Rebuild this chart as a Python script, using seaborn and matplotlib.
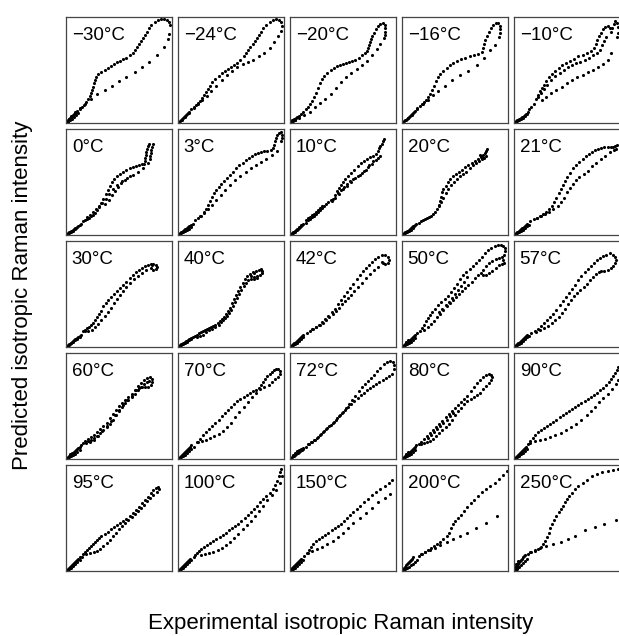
import matplotlib
matplotlib.use("Agg")
import matplotlib.pyplot as plt
import pandas as pd
import seaborn as sns

# panel labels, row by row
temps = ["−30°C", "−24°C", "−20°C", "−16°C", "−10°C",
         "0°C", "3°C", "10°C", "20°C", "21°C",
         "30°C", "40°C", "42°C", "50°C", "57°C",
         "60°C", "70°C", "72°C", "80°C", "90°C",
         "95°C", "100°C", "150°C", "200°C", "250°C"]

# (experimental, predicted) intensity, scaled 0-100 per panel
pts_m30 = [(0,1),(1,2),(2,3),(3,4),(4,5),(5,6),(6,7),(7,8),(8,9),(10,11),(12,12),(14,14),(16,16),(18,19),(20,22),(22,25),(23,28),(24,31),(25,34),(26,37),(27,40),(28,43),(30,46),(33,48),(36,50),(39,52),(42,54),(45,56),(48,58),(51,59),(54,61),(57,62),(60,64),(63,66),(65,69),(67,72),(69,75),(71,78),(73,81),(75,84),(77,87),(79,90),(81,93),(84,96),(87,98),(90,99),(93,99),(96,98),(98,96),(99,93),
           (98,85),(97,80),(93,72),(86,64),(79,58),(72,53),(65,48),(57,43),(50,39),(43,35),(36,31),(29,27),(23,22),(17,17),(12,13),(8,10),(4,6),(2,3),(1,0),(3,2),(5,3),(7,5),(9,7),(11,9)]
pts_m24 = [(0,0),(1,1),(2,2),(3,3),(4,4),(5,5),(6,6),(7,7),(8,8),(9,9),(10,10),(12,12),(14,14),(16,16),(18,18),(20,20),(22,23),(24,26),(26,29),(28,32),(30,35),(32,38),(35,41),(38,44),(41,47),(44,49),(47,51),(50,53),(53,55),(56,57),(59,60),(62,63),(64,66),(66,69),(68,72),(71,75),(73,78),(75,81),(77,84),(79,87),(81,90),(84,93),(87,96),(90,98),(93,99),(96,98),(98,96),(99,92),
           (98,88),(95,83),(91,77),(87,71),(82,66),(77,63),(71,60),(66,58),(61,56),(56,53),(51,49),(46,45),(41,40),(36,35),(31,30),(27,25),(22,21),(18,17),(14,13),(10,9),(6,5),(3,2)]
pts_m20 = [(0,0),(1,2),(2,1),(3,3),(4,2),(5,4),(6,5),(8,6),(10,8),(12,10),(14,12),(16,14),(18,17),(20,20),(22,24),(24,28),(26,33),(28,37),(30,41),(32,44),(35,47),(38,50),(41,52),(44,54),(47,55),(50,56),(53,57),(56,58),(59,59),(62,60),(65,62),(68,64),(71,66),(73,68),(74,71),(75,74),(76,77),(77,80),(78,83),(80,86),(82,89),(84,92),(86,94),(88,95),(90,93),(90,90),(90,87),(90,84),(89,81),
           (86,75),(83,70),(78,64),(73,59),(68,55),(63,51),(58,47),(53,43),(48,38),(43,33),(38,27),(33,22),(28,18),(23,14),(18,10),(13,7),(8,4),(4,2)]
pts_m16 = [(0,0),(1,1),(2,2),(3,2),(4,3),(5,4),(6,5),(7,6),(8,7),(9,8),(10,9),(11,10),(12,11),(14,13),(16,15),(18,17),(20,19),(22,21),(24,24),(26,27),(28,31),(30,35),(32,39),(34,43),(36,46),(39,49),(42,52),(45,55),(48,57),(52,59),(56,61),(60,62),(64,63),(68,64),(72,65),(76,67),(77,71),(78,75),(79,79),(81,83),(83,87),(85,90),(87,93),(89,95),(91,95),(93,92),(93,89),(93,86),(92,82),
           (88,74),(84,69),(78,62),(71,55),(63,49),(55,45),(47,40),(40,35),(34,30),(29,26),(24,21),(19,17),(14,12),(9,7),(5,4)]
pts_m10 = [(0,0),(1,1),(2,1),(3,2),(4,2),(5,3),(2,2),(4,3),(6,4),(7,5),(8,5),(9,6),(10,7),(11,8),(6,3),(8,4),(10,6),(12,8),(13,10),(14,12),(16,14),(18,17),
           (20,22),(22,26),(24,30),(26,33),(28,36),(30,39),(33,43),(36,46),(39,49),(42,52),(45,55),(49,57),(53,59),(57,61),(61,63),(65,64),(69,66),(73,68),(76,71),(78,75),(79,79),(81,83),(83,86),(85,89),(87,91),(89,92),(91,90),(92,87),
           (93,90),(95,94),(96,97),(98,95),(99,91),(99,86),(98,82),
           (22,24),(25,28),(28,32),(31,36),(35,40),(39,44),(43,47),(47,50),(51,53),(55,55),(59,57),(63,58),(67,60),(71,62),(75,64),(79,66),(82,69),(84,74),(86,78),(88,82),
           (92,66),(89,60),(85,56),(80,53),(75,50),(70,48),(65,45),(60,43),(55,40),(50,37),(45,34),(40,31),(35,28),(30,24),(26,21)]
pts_0 = [(0,0),(1,1),(2,1),(3,2),(4,3),(5,3),(6,4),(7,5),(8,6),(9,6),(10,7),(11,8),(12,9),(13,10),(2,2),(4,2),(6,3),(8,5),
         (15,12),(17,13),(19,14),(21,15),(23,17),(25,18),(27,20),(29,23),(31,26),(33,30),(35,34),(37,38),(39,42),(41,46),(43,50),(45,53),(48,56),(51,58),(54,60),(57,62),(60,63),(63,64),(66,65),(69,66),(72,67),(74,67),
         (75,70),(75,73),(76,76),(76,79),(77,82),(78,85),(79,87),(80,72),(80,75),(81,78),(81,81),(82,84),(83,87),
         (78,68),(73,63),(68,60),(63,57),(58,54),(53,51),(48,47),(44,43),(40,38),(37,34),(34,30),(31,27),(28,24),(25,21),(22,18),(19,16),
         (60,56),(56,52),(52,49),(49,45),(46,41),(43,37),(40,33),(36,29)]
pts_3 = [(0,0),(1,1),(2,2),(3,2),(4,3),(5,4),(6,5),(7,5),(8,6),(9,7),(10,8),(11,8),(12,9),(13,10),(2,1),(4,2),(6,3),(8,4),(10,5),(12,7),
         (15,13),(18,15),(21,17),(24,21),(26,24),(28,28),(30,32),(32,36),(34,39),(36,42),(38,45),(40,48),(43,51),(46,54),(49,57),(52,60),(55,63),(58,66),(61,68),(64,71),(67,73),(70,75),(73,77),(76,78),(79,79),(82,80),(85,80),(88,81),(90,83),(91,86),(92,89),(93,92),(94,95),(96,97),(98,98),(99,95),(99,92),(98,89),
         (94,80),(89,76),(84,72),(79,69),(74,66),(69,63),(64,60),(59,56),(54,52),(49,47),(44,42),(40,37),(36,33),(32,28),(28,24),(24,20),(20,17)]
pts_10 = [(0,0),(1,1),(2,1),(3,2),(4,3),(5,4),(6,4),(7,5),(8,6),(9,7),(10,8),(11,9),(12,10),(2,2),(4,2),(6,5),(8,7),(10,9),
          (14,11),(14,13),(16,13),(16,15),(18,14),(18,16),(20,16),(20,18),(22,17),(22,19),(24,19),(24,21),(26,21),(26,23),(28,23),(28,25),(30,25),(30,27),(32,27),(34,29),(36,31),(38,33),(40,34),
          (42,37),(44,41),(46,44),(48,47),(50,50),(52,53),(55,56),(58,59),(61,62),(64,65),(67,68),(70,70),(73,72),(76,74),(79,75),(82,77),(84,80),(85,83),(86,85),(87,87),(88,89),(89,91),
          (86,75),(84,73),(82,71),(79,70),(75,66),(72,62),(68,59),(64,56),(60,53),(57,51),(54,48),(51,45),(48,42),(45,39),(42,35),(39,32),
          (46,38),(50,43),(54,46),(58,50),(62,54),(66,57),(70,61),(74,64),(78,67)]
pts_20 = [(0,0),(1,1),(2,1),(3,2),(4,3),(5,3),(6,4),(7,5),(8,6),(9,7),(10,8),(11,8),(12,9),(13,10),(2,2),(4,2),(6,3),(8,4),(10,6),
          (15,11),(17,12),(19,13),(21,14),(23,15),(25,16),(27,17),(29,19),(31,21),(33,24),(35,28),(36,32),(37,36),(38,40),(39,43),(41,46),(43,50),(45,53),(48,56),(51,58),(54,60),(57,62),(60,64),(63,66),(66,68),(69,70),(72,72),(75,74),(77,76),(79,78),(80,80),(81,82),
          (76,72),(73,70),(70,68),(67,66),(64,63),(61,60),(58,58),(55,56),(52,53),(49,50),(46,47),(43,43),(41,39),(39,35),(37,31),(35,27),
          (74,76),(76,74),(78,73),(80,75)]
pts_21 = [(0,0),(1,1),(2,2),(3,2),(4,3),(5,4),(6,5),(7,6),(8,6),(9,7),(10,8),(11,9),(12,10),(2,1),(4,2),(6,3),(8,4),(10,6),(12,8),(14,9),
          (15,12),(18,14),(21,15),(24,17),(27,19),(30,21),(33,24),(36,27),(38,31),(40,35),(42,39),(44,43),(46,47),(48,51),(50,55),(53,59),(56,63),(59,66),(62,69),(65,72),(68,75),(71,77),(74,79),(77,81),(80,82),(83,83),(86,84),(89,84),(92,84),(94,84),(96,85),(98,86),(97,82),(95,81),
          (91,79),(87,75),(83,72),(78,68),(74,65),(70,61),(66,58),(62,55),(59,52),(56,48),(53,44),(50,40),(47,35),(44,31),(41,27),(37,24),(33,21),(29,19),(25,17),(21,15)]
pts_30 = [(0,0),(1,1),(2,2),(3,2),(4,3),(5,4),(6,5),(7,6),(8,7),(9,7),(10,8),(11,9),(12,10),(2,1),(4,3),(6,4),(8,6),(10,7),(12,9),(13,11),
          (15,14),(17,15),(19,17),(21,18),(23,20),(25,22),(27,25),(29,28),(31,31),(33,34),(35,38),(37,41),(39,44),(42,47),(45,50),(48,53),(51,56),(54,59),(57,62),(60,65),(63,68),(66,71),(69,73),(72,75),(75,77),(78,78),(81,79),(83,79),(85,78),(86,76),(85,74),(83,73),(81,75),(82,78),
          (76,73),(72,70),(68,67),(64,64),(60,61),(57,57),(54,53),(51,49),(48,45),(45,41),(42,37),(39,33),(36,29),(33,25),(30,21),(27,18),(24,15),(20,14),(17,14)]
pts_40 = [(0,0),(1,1),(2,1),(3,2),(4,3),(5,3),(6,4),(7,5),(8,5),(9,6),(10,7),(11,7),(12,8),(13,9),(2,2),(4,2),(6,3),(8,4),(10,6),(12,7),
          (15,10),(17,11),(19,12),(21,13),(23,14),(25,15),(27,16),(29,17),(31,18),(33,19),(35,20),(37,22),(39,24),(41,26),(43,28),(45,31),(47,34),(49,37),(51,41),(53,45),(55,49),(57,53),(59,57),(61,61),(63,64),(65,67),(68,69),(71,71),(74,72),(77,73),(79,74),(80,72),(80,70),(78,68),(75,67),(72,66),(69,67),(72,70),
          (40,23),(42,25),(44,27),(46,29),(48,32),(50,35),(52,38),(54,42),(56,46),(58,50),(60,54),(62,58),(64,61),(66,63),(69,64),(72,64),(75,65),
          (17,9),(20,10),(23,11),(26,13),(29,15),(32,16),(35,18),(38,20)]
pts_42 = [(0,0),(1,1),(2,2),(3,3),(4,3),(5,4),(6,5),(7,6),(8,7),(9,8),(10,9),(11,10),(12,11),(2,1),(4,2),(6,3),(8,5),(10,7),(12,9),
          (15,12),(18,14),(21,16),(24,18),(27,20),(30,23),(33,26),(36,29),(39,33),(42,36),(45,40),(48,44),(51,48),(54,52),(57,56),(60,60),(63,64),(66,68),(69,72),(72,75),(75,78),(78,81),(81,84),(84,86),(87,88),(90,88),(93,86),(94,83),(93,80),(90,79),(88,80),(87,81),
          (84,76),(80,73),(76,69),(72,65),(68,61),(64,57),(61,53),(58,49),(55,46),(52,43),(49,40),(46,37),(43,34),(40,31),(37,28),(34,25),(31,22),(28,20),(24,18),(20,16)]
pts_50 = [(0,0),(1,1),(2,1),(3,2),(4,3),(5,4),(6,5),(7,6),(8,7),(9,8),(10,9),(11,10),(12,11),(2,2),(4,2),(6,3),(8,4),(10,6),(12,8),(3,4),(5,6),
          (14,12),(16,14),(18,17),(20,20),(22,24),(24,27),(26,30),(28,33),(31,36),(34,39),(37,42),(40,45),(43,48),(46,52),(49,56),(52,60),(55,64),(58,68),(61,71),(64,74),(67,77),(70,80),(73,83),(76,86),(79,89),(82,92),(85,94),(88,96),(91,97),(94,97),(96,96),(98,94),(98,91),(97,88),(95,86),(92,85),(89,84),
          (86,82),(83,80),(80,77),(77,73),(75,70),(77,68),(80,68),(83,70),(86,72),(89,75),(92,78),(95,79),(97,80),(96,83),
          (72,68),(69,65),(66,62),(63,59),(60,56),(57,53),(54,50),(51,47),(48,44),(45,41),(42,38),(39,35),(36,31),(33,28),(30,24),(27,21),(24,18),(20,15),
          (35,33),(38,36),(41,39),(44,42),(47,46),(50,50),(53,54),(56,58),(59,62),(62,66)]
pts_57 = [(0,0),(1,1),(2,2),(3,3),(4,3),(5,4),(6,5),(7,6),(8,7),(9,8),(10,9),(11,10),(12,11),(2,1),(4,2),(6,3),(8,5),(10,7),(12,9),(14,10),
          (16,12),(19,14),(22,16),(25,19),(28,22),(31,25),(34,28),(37,31),(40,35),(43,39),(46,43),(49,47),(52,51),(55,55),(58,59),(61,63),(64,67),(67,71),(70,74),(73,77),(76,80),(79,83),(82,85),(85,87),(88,88),(91,89),(94,88),(96,86),(97,83),(96,80),(94,77),(92,75),(89,73),(86,72),(83,72),(81,71),
          (78,69),(75,66),(72,63),(69,60),(66,57),(63,54),(60,51),(57,48),(54,44),(51,40),(48,36),(45,32),(42,28),(39,25),(36,22),(32,19),(28,17),(24,15),(20,13)]
pts_60 = [(0,0),(1,1),(2,1),(3,2),(4,3),(5,4),(6,5),(7,6),(8,7),(9,8),(10,9),(11,10),(12,11),(2,2),(4,2),(6,3),(8,4),(10,6),(12,8),(3,4),(5,5),(13,12),
          (15,14),(17,16),(20,18),(23,20),(26,22),(29,25),(32,28),(35,31),(38,34),(41,38),(44,42),(47,46),(50,50),(53,53),(56,56),(59,59),(62,62),(65,65),(68,69),(71,72),(74,75),(77,77),(80,78),(82,76),(82,73),(81,70),(78,68),(75,68),(72,68),(69,67),(66,65),
          (20,16),(23,17),(26,19),(29,21),(32,24),(35,27),(38,30),(41,33),(44,37),(47,41),(50,45),(53,49),(56,53),(59,56),(62,59),(65,62),(68,65),(71,68),(74,71),(77,73),(79,74),
          (62,60),(58,56),(54,51),(50,46),(46,41),(42,36),(38,31),(34,26),(30,21),(26,17),(22,15),(18,14)]
pts_70 = [(0,0),(1,1),(2,2),(3,3),(4,4),(5,5),(6,6),(7,7),(8,8),(9,9),(10,10),(11,11),(12,12),(2,1),(4,2),(6,3),(8,5),(10,7),(12,9),(14,11),
          (17,15),(20,18),(23,22),(26,25),(29,28),(32,31),(35,34),(38,37),(41,40),(44,43),(47,46),(50,49),(53,52),(56,55),(59,57),(62,59),(65,61),(68,63),(71,64),(74,65),(77,67),(79,70),(81,73),(83,76),(85,79),(87,81),(89,83),(91,85),(93,86),(95,86),(97,84),(97,81),(95,78),(92,76),
          (89,73),(86,70),(82,68),(78,66),(74,63),(70,59),(66,54),(62,49),(58,44),(54,39),(50,34),(46,30),(42,26),(38,23),(34,21),(30,19),(26,17),(22,16),(18,15)]
pts_72 = [(0,0),(1,1),(2,2),(3,2),(4,3),(5,4),(6,5),(7,5),(8,6),(9,7),(10,8),(11,8),(12,9),(2,3),(4,5),(6,7),(8,8),(10,9),(12,10),
          (14,11),(17,13),(20,15),(23,17),(26,20),(29,23),(32,26),(35,29),(38,32),(41,35),(44,38),(47,41),(50,44),(53,48),(56,52),(59,56),(62,60),(65,64),(68,68),(71,71),(74,74),(77,77),(80,80),(83,84),(86,87),(89,90),(92,92),(95,93),(98,92),(99,89),(99,86),
          (97,81),(94,79),(91,77),(88,75),(85,73),(82,71),(79,69),(76,67),(73,65),(70,63),(67,61),(64,58),(61,55),(58,52),(55,49),(52,46),(49,43),(46,40),(43,37),(40,34),(37,31),(34,28),(31,25),(28,22),(25,19),(22,17),(19,15),(16,13)]
pts_80 = [(0,0),(1,1),(2,1),(3,2),(4,3),(5,4),(6,5),(7,6),(8,7),(9,8),(10,9),(11,10),(12,11),(2,2),(4,2),(6,3),(8,4),(10,6),(12,8),(3,4),(5,6),(13,12),
          (15,13),(17,15),(20,18),(23,21),(26,24),(29,27),(32,30),(35,33),(38,36),(41,39),(44,42),(47,45),(50,48),(53,51),(56,54),(59,57),(62,60),(65,64),(68,68),(71,72),(74,75),(77,78),(80,80),(83,81),(85,80),(86,78),(85,75),(83,72),(80,69),(77,66),(74,63),(71,61),(68,59),(65,57),(62,55),
          (59,52),(56,48),(53,45),(50,41),(47,37),(44,33),(41,30),(38,27),(35,24),(32,21),(29,18),(26,16),(23,15),(20,14),(17,13),
          (24,19),(27,22),(30,25),(33,28),(36,31),(39,34),(42,37),(45,40),(48,43)]
pts_90 = [(0,0),(1,1),(2,2),(3,3),(4,4),(5,5),(6,6),(7,7),(8,8),(9,9),(10,10),(11,11),(2,1),(4,2),(6,4),(8,5),(10,7),(12,9),
          (13,13),(15,16),(17,19),(19,22),(22,25),(25,27),(28,29),(31,31),(34,33),(37,35),(40,37),(43,39),(46,41),(49,43),(52,45),(55,47),(58,49),(61,51),(64,53),(67,55),(70,57),(73,59),(76,61),(79,63),(82,65),(85,67),(88,70),(90,73),(92,76),(94,79),(96,82),(98,85),(99,88),
          (99,75),(97,71),(93,66),(89,62),(85,58),(81,54),(77,49),(73,45),(69,41),(64,37),(59,33),(54,30),(49,27),(44,24),(39,22),(34,20),(29,18),(24,17),(19,16),(15,14)]
pts_95 = [(0,0),(1,1),(2,2),(3,3),(4,4),(5,5),(6,6),(7,7),(8,8),(9,9),(10,10),(11,11),(12,12),(2,1),(4,2),(6,4),(8,6),(10,8),(12,10),(14,12),
          (15,15),(17,17),(19,19),(21,21),(23,23),(25,25),(27,27),(29,29),(31,31),(33,33),(36,35),(39,37),(42,39),(45,41),(48,43),(51,45),(54,47),(57,49),(60,52),(63,55),(66,58),(69,61),(72,64),(75,67),(78,70),(81,74),(83,77),(85,79),(87,80),(88,78),(86,75),
          (83,72),(80,69),(77,66),(74,63),(71,60),(68,57),(65,54),(62,51),(59,48),(56,45),(53,42),(50,39),(47,36),(44,33),(41,29),(38,26),(35,23),(32,20),(29,18),(26,17),(22,16),(18,15)]
pts_100 = [(0,0),(1,1),(2,2),(3,3),(4,4),(5,5),(6,6),(7,7),(8,8),(9,9),(10,10),(11,11),(2,1),(4,2),(6,4),(8,6),(10,8),(12,10),(14,12),
           (15,14),(17,16),(19,18),(21,20),(24,22),(27,24),(30,26),(33,28),(36,30),(39,32),(42,34),(45,36),(48,38),(51,40),(54,42),(57,44),(60,47),(63,50),(66,53),(69,56),(72,59),(75,62),(78,65),(81,68),(84,71),(87,74),(90,78),(92,82),(94,86),(96,90),(97,94),(98,97),
           (99,90),(97,84),(93,77),(89,72),(85,67),(81,62),(77,57),(73,52),(69,47),(65,43),(61,39),(57,35),(53,31),(49,27),(45,24),(41,21),(37,19),(33,17),(29,16),(25,15),(21,14)]
pts_150 = [(0,0),(1,2),(2,3),(3,4),(4,5),(5,6),(6,7),(7,8),(8,9),(9,10),(10,11),(2,1),(4,2),(6,4),(8,6),(10,8),(12,10),
           (13,13),(15,16),(17,19),(19,22),(21,25),(24,28),(27,30),(30,32),(33,34),(36,36),(39,38),(42,40),(45,42),(48,44),(51,47),(54,50),(57,53),(60,56),(63,59),(66,62),(70,65),(74,68),(78,72),(82,75),(86,78),(90,81),(94,84),(97,87),
           (95,73),(90,69),(84,65),(78,60),(72,55),(66,50),(60,45),(55,40),(50,36),(45,32),(40,28),(35,25),(30,22),(25,20),(20,18),(16,16)]
pts_200 = [(0,0),(1,2),(2,3),(3,5),(4,6),(5,7),(6,8),(7,9),(8,10),(9,11),(10,12),(2,1),(4,2),(6,3),(8,5),(10,6),(12,8),(14,10),
           (15,13),(18,15),(21,17),(24,19),(27,21),(30,23),(33,25),(36,27),(39,30),(42,33),(44,36),(46,40),(48,44),(50,47),(53,50),(56,53),(59,57),(62,61),(65,64),(68,67),(72,71),(76,75),(80,78),(84,81),(88,84),(92,88),(96,91),(100,95),
           (90,52),(80,45),(70,40),(62,36),(55,33),(48,30),(42,27),(36,24),(31,21),(26,19),(21,17),(17,15)]
pts_250 = [(0,0),(1,2),(1,4),(2,5),(2,3),(3,6),(3,7),(4,8),(5,9),(6,10),(7,11),(8,12),(9,13),(10,14),(2,1),(4,3),(6,5),(8,7),(10,9),(12,11),(0,3),(1,6),(3,9),
           (13,15),(16,17),(19,18),(22,20),(25,22),(27,25),(29,28),(31,32),(33,36),(34,40),(36,44),(38,48),(40,52),(42,56),(44,59),(46,62),(48,65),(50,68),(52,71),(55,74),(58,78),(61,81),(65,84),(69,87),(74,90),(79,92),(84,94),(89,95),(94,96),(99,97),
           (97,48),(86,44),(77,41),(67,38),(58,33),(51,30),(44,27),(37,25),(30,23),(24,21),(19,19),(15,17)]

panels = [pts_m30, pts_m24, pts_m20, pts_m16, pts_m10,
          pts_0, pts_3, pts_10, pts_20, pts_21,
          pts_30, pts_40, pts_42, pts_50, pts_57,
          pts_60, pts_70, pts_72, pts_80, pts_90,
          pts_95, pts_100, pts_150, pts_200, pts_250]

rows = []
for label, pts in zip(temps, panels):
    for x, y in pts:
        rows.append((label, x, y))
df = pd.DataFrame(rows, columns=["temp", "exp", "pred"])

sns.set_style("white")
plt.rcParams["font.family"] = ["Liberation Sans", "DejaVu Sans"]

g = sns.FacetGrid(df, col="temp", col_wrap=5, col_order=temps, height=1.06,
                  aspect=1, sharex=True, sharey=True, despine=False)
g.map_dataframe(sns.scatterplot, x="exp", y="pred", s=5, color="black", linewidth=0)
g.set(xlim=(-1, 101), ylim=(-1, 101), xticks=[], yticks=[])
g.set_axis_labels("", "")

for ax, label in zip(g.axes.flat, temps):
    ax.set_title("")
    ax.text(0.055, 0.91, label, transform=ax.transAxes, ha="left", va="top",
            fontsize=13.5, color="black")
    for sp in ax.spines.values():
        sp.set_color("#444444")
        sp.set_linewidth(0.9)

fig = g.figure
fig.set_size_inches(6.19, 6.36)
fig.subplots_adjust(left=66/619, right=620/619, bottom=65/636, top=1-17/636,
                    wspace=0.054, hspace=0.057)
fig.text(0.55, 1-624/636, "Experimental isotropic Raman intensity",
         ha="center", va="center", fontsize=16, color="black")
fig.text(0.036, 1-295/636, "Predicted isotropic Raman intensity",
         ha="center", va="center", rotation=90, fontsize=16, color="black")

fig.savefig("out.png", dpi=100)
